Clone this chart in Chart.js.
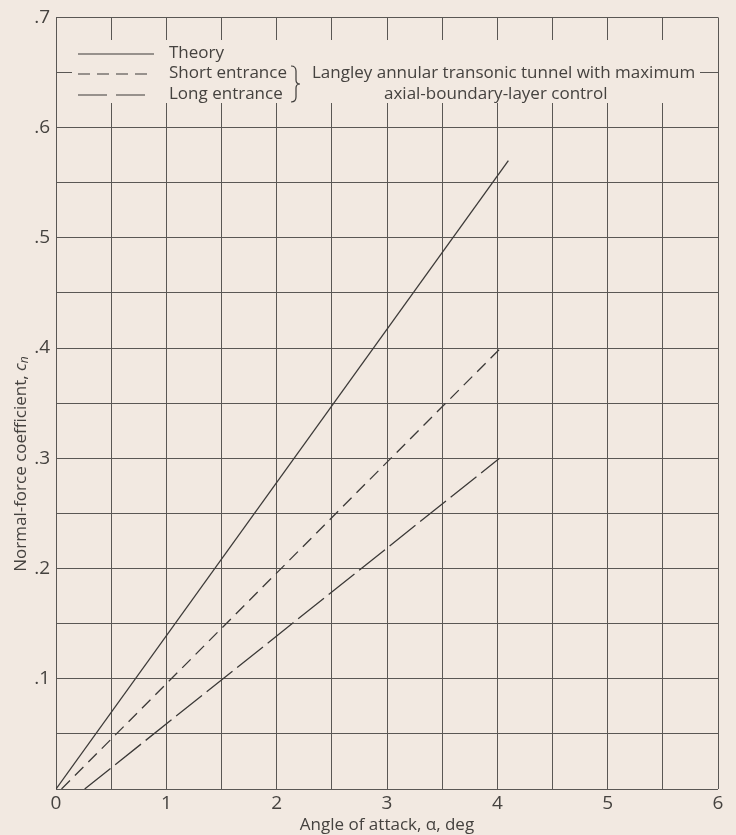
<!DOCTYPE html>
<html>
<head>
<meta charset="utf-8">
<script src="https://cdn.jsdelivr.net/npm/chart.js@4/dist/chart.umd.min.js"></script>
<style>
  body { margin: 0; background: #f2e9e1; }
  canvas { display: block; }
</style>
</head>
<body>
<canvas id="cnChart" width="736" height="835"></canvas>
<script>
// values
const theoryX = [0, 4.1];
const theoryY = [0, 0.57];
const shortX = [0.05, 4.03];
const shortY = [0, 0.40];
const longX = [0.26, 4.02];
const longY = [0, 0.30];

const xLabels = ['0', '1', '2', '3', '4', '5', '6'];
const yLabels = ['', '.1', '.2', '.3', '.4', '.5', '.6', '.7'];

const bg = '#f2e9e1';
const ink = '#3c3a38';
const textInk = '#45423f';
const gridInk = '#5a5754';
const font = 'Open Sans';

function pts(xs, ys) {
    return xs.map((x, i) => ({ x: x, y: ys[i] }));
}

// legend box drawn over the grid, like the original lettering
const legendBox = {
    id: 'legendBox',
    beforeDatasetsDraw(chart) {
        const ctx = chart.ctx;
        ctx.save();
        ctx.fillStyle = bg;
        ctx.fillRect(72, 40, 628, 63);

        ctx.strokeStyle = ink;
        ctx.lineWidth = 1.2;
        const samples = [
            { y: 54, dash: [] },
            { y: 74, dash: [12, 7] },
            { y: 95, dash: [29, 9] }
        ];
        samples.forEach(s => {
            ctx.setLineDash(s.dash);
            ctx.beginPath();
            ctx.moveTo(78, s.y);
            ctx.lineTo(154, s.y);
            ctx.stroke();
        });
        ctx.setLineDash([]);

        ctx.fillStyle = textInk;
        ctx.font = '17px "' + font + '"';
        ctx.textBaseline = 'middle';
        ctx.fillText('Theory', 169, 53);
        ctx.fillText('Short entrance', 169, 73);
        ctx.fillText('Long entrance', 169, 94);
        ctx.fillText('Langley annular transonic tunnel with maximum', 312, 73, 384);
        ctx.fillText('axial-boundary-layer control', 384, 94);

        // brace
        const bx = 296;
        ctx.beginPath();
        ctx.moveTo(bx - 5, 66);
        ctx.quadraticCurveTo(bx, 66, bx, 71);
        ctx.lineTo(bx, 80);
        ctx.quadraticCurveTo(bx, 84, bx + 4, 84);
        ctx.quadraticCurveTo(bx, 84, bx, 88);
        ctx.lineTo(bx, 97);
        ctx.quadraticCurveTo(bx, 102, bx - 5, 102);
        ctx.stroke();

        // y axis title, sits below centre in the original
        ctx.translate(21, 463);
        ctx.rotate(-Math.PI / 2);
        ctx.textAlign = 'left';
        const main = 'Normal-force coefficient, ';
        ctx.font = '17px "' + font + '"';
        const wMain = ctx.measureText(main).width;
        ctx.font = 'italic 17px "' + font + '"';
        const wc = ctx.measureText('c').width;
        const total = wMain + wc + 9;
        let x0 = -total / 2;
        ctx.font = '17px "' + font + '"';
        ctx.fillText(main, x0, 0);
        ctx.font = 'italic 17px "' + font + '"';
        ctx.fillText('c', x0 + wMain, 0);
        ctx.font = 'italic 12px "' + font + '"';
        ctx.fillText('n', x0 + wMain + wc, 4);
        ctx.restore();
    }
};

new Chart(document.getElementById('cnChart'), {
    type: 'scatter',
    data: {
        datasets: [
            {
                label: 'Theory',
                data: pts(theoryX, theoryY),
                borderColor: ink,
                borderWidth: 1.3,
                showLine: true,
                pointRadius: 0
            },
            {
                label: 'Short entrance',
                data: pts(shortX, shortY),
                borderColor: ink,
                borderWidth: 1.3,
                borderDash: [12, 7],
                showLine: true,
                pointRadius: 0
            },
            {
                label: 'Long entrance',
                data: pts(longX, longY),
                borderColor: ink,
                borderWidth: 1.3,
                borderDash: [33, 6],
                showLine: true,
                pointRadius: 0
            }
        ]
    },
    options: {
        responsive: false,
        animation: false,
        layout: { padding: { top: 15, right: 18, left: 0, bottom: 0 } },
        plugins: {
            legend: { display: false },
            tooltip: { enabled: false }
        },
        scales: {
            x: {
                type: 'linear',
                min: 0,
                max: 6,
                afterFit: s => { s.height = 46; },
                border: { display: false },
                grid: { color: gridInk, lineWidth: 1, drawTicks: false },
                ticks: {
                    stepSize: 0.5,
                    padding: 3,
                    color: textInk,
                    font: { family: font, size: 19 },
                    autoSkip: false,
                    maxRotation: 0,
                    callback: v => Number.isInteger(v) ? xLabels[v] : ''
                },
                title: {
                    display: true,
                    text: 'Angle of attack, \u03b1, deg',
                    color: textInk,
                    font: { family: font, size: 17 },
                    padding: { top: -4, bottom: 0 }
                }
            },
            y: {
                type: 'linear',
                min: 0,
                max: 0.7,
                afterFit: s => { s.width = 56; },
                border: { display: false },
                grid: { color: gridInk, lineWidth: 1, drawTicks: false },
                ticks: {
                    stepSize: 0.05,
                    padding: 6,
                    color: textInk,
                    font: { family: font, size: 19 },
                    autoSkip: false,
                    callback: v => {
                        const k = Math.round(v * 100);
                        return k % 10 === 0 ? yLabels[k / 10] : '';
                    }
                },
                title: { display: false }
            }
        }
    },
    plugins: [legendBox]
});
</script>
</body>
</html>
